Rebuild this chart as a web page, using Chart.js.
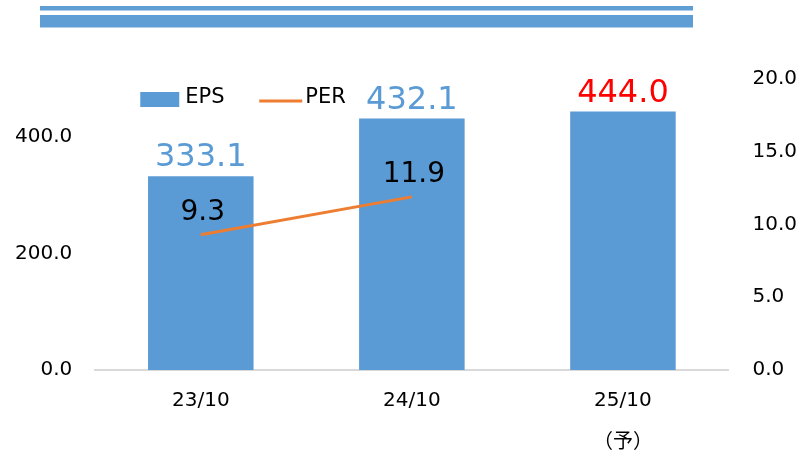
<!DOCTYPE html>
<html>
<head>
<meta charset="utf-8">
<script src="https://cdn.jsdelivr.net/npm/chart.js@4.4.1/dist/chart.umd.min.js"></script>
<style>
  html, body { margin: 0; padding: 0; background: #fff; }
  #wrap { width: 797px; height: 456px; }
</style>
</head>
<body>
<div id="wrap"><canvas id="chart" width="797" height="456"></canvas></div>
<script>
const labels = ['23/10', '24/10', ['25/10', '（予）']];
const eps = [333.1, 432.1, 444.0];
const per = [9.3, 11.9, null];
const epsLabelColors = ['#5b9bd5', '#5b9bd5', '#ff0000'];

const FONT = '"DejaVu Sans", Verdana, "Noto Sans CJK JP", sans-serif';
const BLUE = '#5b9bd5';
const ORANGE = '#ed7d31';

// two blue strips above the chart
const headerBars = {
    id: 'headerBars',
    beforeDraw(chart) {
        const c = chart.ctx;
        c.save();
        c.fillStyle = '#5f9ed5';
        c.fillRect(40, 6, 653, 4.5);
        c.fillRect(40, 15, 653, 12.5);
        c.restore();
    }
};

// legend drawn inside the plot area
const innerLegend = {
    id: 'innerLegend',
    afterDraw(chart) {
        const c = chart.ctx;
        const a = chart.chartArea;
        const x0 = a.left + 45;
        const y0 = a.top + 19;
        c.save();
        c.font = '21px ' + FONT;
        c.textBaseline = 'middle';
        c.fillStyle = BLUE;
        c.fillRect(x0, y0 - 6, 39, 15);
        c.fillStyle = '#000';
        c.fillText(chart.data.datasets[0].label, x0 + 45, y0);
        c.strokeStyle = ORANGE;
        c.lineWidth = 3;
        c.beginPath();
        c.moveTo(x0 + 119, y0 + 3);
        c.lineTo(x0 + 162, y0 + 3);
        c.stroke();
        c.fillText(chart.data.datasets[1].label, x0 + 165, y0);
        c.restore();
    }
};

// value labels over bars and line points
const valueLabels = {
    id: 'valueLabels',
    afterDatasetsDraw(chart) {
        const c = chart.ctx;
        c.save();
        c.textAlign = 'center';

        const barMeta = chart.getDatasetMeta(0);
        c.font = '32px ' + FONT;
        c.textBaseline = 'alphabetic';
        barMeta.data.forEach((bar, i) => {
            c.fillStyle = epsLabelColors[i];
            c.fillText(eps[i].toFixed(1), bar.x, bar.y - 10);
        });

        const lineMeta = chart.getDatasetMeta(1);
        c.font = '28px ' + FONT;
        c.textBaseline = 'middle';
        c.fillStyle = '#000';
        lineMeta.data.forEach((pt, i) => {
            if (per[i] == null) return;
            c.fillText(per[i].toFixed(1), pt.x + 2, pt.y - 22);
        });
        c.restore();
    }
};

const ctx = document.getElementById('chart').getContext('2d');

const chart = new Chart(ctx, {
    type: 'bar',
    data: {
        labels: labels,
        datasets: [{
            type: 'bar',
            label: 'EPS',
            data: eps,
            backgroundColor: BLUE,
            barPercentage: 0.5,
            categoryPercentage: 1.0,
            yAxisID: 'y',
            order: 1,
        }, {
            type: 'line',
            label: 'PER',
            data: per,
            borderColor: ORANGE,
            borderWidth: 3,
            pointRadius: 0,
            fill: false,
            tension: 0,
            yAxisID: 'y1',
            order: 0,
        }],
    },
    options: {
        responsive: false,
        animation: false,
        layout: {
            padding: { top: 79, left: -8, right: -24, bottom: -18 },
        },
        plugins: {
            legend: { display: false },
            tooltip: { enabled: false },
        },
        scales: {
            x: {
                grid: { display: false, drawTicks: false },
                border: { display: true, color: '#d9d9d9', width: 2 },
                ticks: {
                    color: '#000',
                    padding: 10,
                    font: { family: FONT, size: 20, lineHeight: 2.1 },
                },
            },
            y: {
                position: 'left',
                min: 0,
                max: 500,
                grid: { display: false, drawTicks: false },
                border: { display: false },
                ticks: {
                    stepSize: 200,
                    color: '#000',
                    padding: 23,
                    font: { family: FONT, size: 20 },
                    callback: v => (v % 200 === 0 ? v.toFixed(1) : null),
                },
            },
            y1: {
                position: 'right',
                min: 0,
                max: 20,
                grid: { display: false, drawTicks: false },
                border: { display: false },
                ticks: {
                    stepSize: 5,
                    color: '#000',
                    padding: 24,
                    font: { family: FONT, size: 20 },
                    callback: v => v.toFixed(1),
                },
            },
        },
    },
    plugins: [headerBars, innerLegend, valueLabels],
});
</script>
</body>
</html>
